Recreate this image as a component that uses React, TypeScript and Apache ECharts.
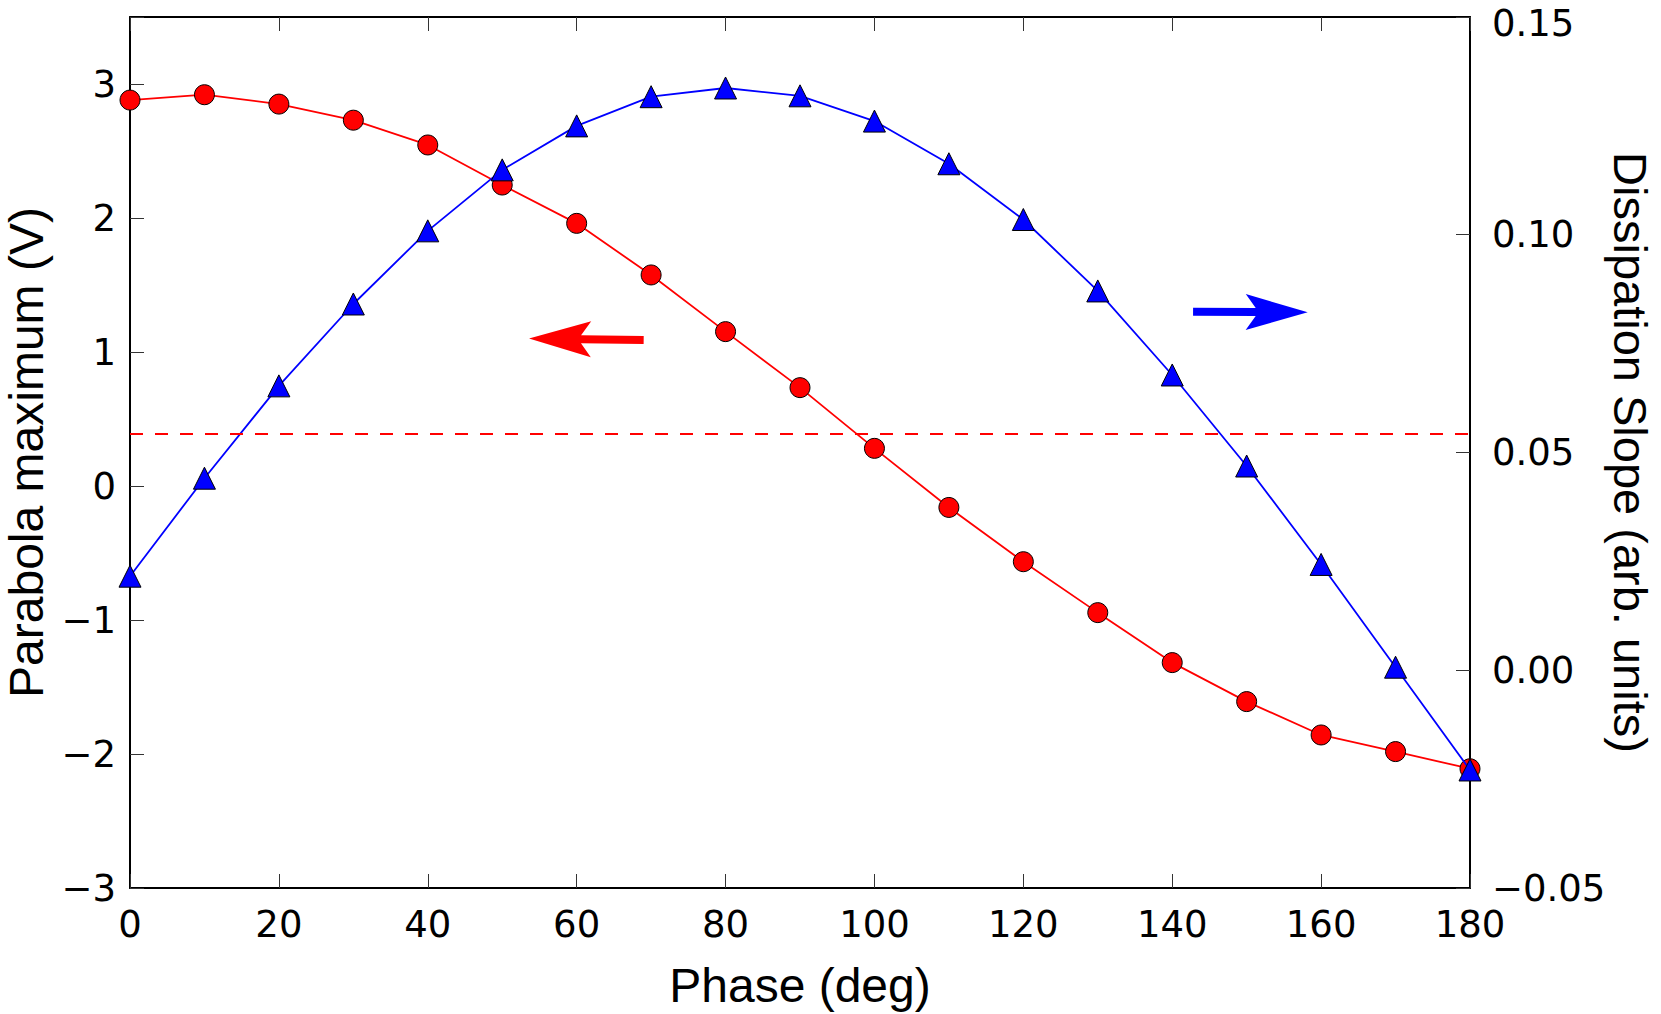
import React, { useEffect, useRef } from 'react';
import * as echarts from 'echarts';

// ---- data ----
const phaseDeg = [0, 10, 20, 30, 40, 50, 60, 70, 80, 90, 100, 110, 120, 130, 140, 150, 160, 170, 180];
const parabolaMax = [2.88, 2.92, 2.85, 2.73, 2.545, 2.246, 1.96, 1.575, 1.152, 0.734, 0.281, -0.16, -0.565, -0.945, -1.318, -1.609, -1.858, -1.982, -2.11];
const dissipationSlope = [0.0216, 0.0441, 0.0653, 0.0841, 0.1009, 0.1149, 0.125, 0.1317, 0.1337, 0.1319, 0.1261, 0.1163, 0.1035, 0.0871, 0.0678, 0.0469, 0.0243, 0.0007, -0.0229];
const thresholdLevel = 0.39;
// arrows: [tailX, tailY, tipX, tipY]
const leftArrow = [[69, 1.09, 53.6, 1.1]];
const rightArrow = [[142.8, 0.0823, 158.2, 0.0822]];

const xRange = { min: 0, max: 180, interval: 20 };
const leftRange = { min: -3, max: 3.5, interval: 1 };
const rightRange = { min: -0.05, max: 0.15, interval: 0.05 };

export default function App() {
  const ref = useRef<HTMLDivElement>(null);
  useEffect(() => {
    const chart = echarts.init(ref.current!, null, { renderer: 'svg' });
    const minus = (s: string) => s.replace('-', '\u2212');
    const tickFont = { fontFamily: 'DejaVu Sans', fontSize: 37, color: '#000' };
    const titleFont = { fontFamily: 'Liberation Sans', fontSize: 48, color: '#000' };
    const axisLine = { show: true, onZero: false, lineStyle: { color: '#000', width: 2 } };
    const axisTick = { show: true, inside: true, length: 14, lineStyle: { color: '#333', width: 1 } };

    const arrowRender = (fill: string) => (params: any, api: any) => {
      const tail = api.coord([api.value(0), api.value(1)]);
      const tip = api.coord([api.value(2), api.value(3)]);
      const dx = tail[0] - tip[0];
      const dy = tail[1] - tip[1];
      const L = Math.hypot(dx, dy);
      const ux = dx / L, uy = dy / L;
      const nx = -uy, ny = ux;
      const pt = (a: number, b: number) => [tip[0] + ux * a + nx * b, tip[1] + uy * a + ny * b];
      const points = [pt(0, 0), pt(62, 18), pt(52, 4), pt(L, 4), pt(L, -4), pt(52, -4), pt(62, -18)];
      return { type: 'polygon', shape: { points }, style: { fill } };
    };

    chart.setOption({
      animation: false,
      backgroundColor: '#fff',
      grid: { left: 130, right: 191, top: 17, bottom: 126, containLabel: false, outerBoundsMode: 'none' },
      xAxis: [
        {
          type: 'value',
          position: 'bottom',
          ...xRange,
          name: 'Phase (deg)',
          nameLocation: 'middle',
          nameGap: 73,
          nameTextStyle: titleFont,
          axisLine,
          axisTick,
          splitLine: { show: false },
          axisLabel: { ...tickFont, margin: 18 },
        },
        {
          type: 'value',
          position: 'top',
          ...xRange,
          axisLine,
          axisTick,
          splitLine: { show: false },
          axisLabel: { show: false },
        },
      ],
      yAxis: [
        {
          type: 'value',
          position: 'left',
          ...leftRange,
          name: 'Parabola maximum (V)',
          nameLocation: 'middle',
          nameGap: 76,
          nameRotate: 90,
          nameTextStyle: titleFont,
          axisLine,
          axisTick,
          splitLine: { show: false },
          axisLabel: {
            ...tickFont,
            margin: 14,
            formatter: (v: number) => (Number.isInteger(v) ? minus(String(v)) : ''),
          },
        },
        {
          type: 'value',
          position: 'right',
          ...rightRange,
          name: 'Dissipation Slope (arb. units)',
          nameLocation: 'middle',
          nameGap: 140,
          nameMoveOverlap: false,
          nameRotate: -90,
          nameTextStyle: { ...titleFont, fontSize: 47, lineHeight: 40 },
          axisLine,
          axisTick,
          splitLine: { show: false },
          axisLabel: {
            ...tickFont,
            lineHeight: 30,
            margin: 22,
            formatter: (v: number) => {
              const s = minus((Math.round(v * 100) / 100).toFixed(2));
              return v >= rightRange.max - 1e-9 ? '{t|' + s + '}' : s;
            },
            rich: {
              t: { ...tickFont, lineHeight: 30, padding: [12, 0, 0, 0] },
            },
          },
        },
      ],
      series: [
        {
          type: 'line',
          name: 'parabola',
          xAxisIndex: 0,
          yAxisIndex: 0,
          data: phaseDeg.map((x, i) => [x, parabolaMax[i]]),
          symbol: 'circle',
          symbolSize: 20,
          lineStyle: { color: '#ff0000', width: 1.8 },
          itemStyle: { color: '#ff0000', borderColor: '#000', borderWidth: 1 },
          z: 2,
          markLine: {
            silent: true,
            symbol: 'none',
            label: { show: false },
            lineStyle: { color: '#ff0000', type: [13, 12], width: 2 },
            data: [{ yAxis: thresholdLevel }],
          },
        },
        {
          type: 'line',
          name: 'slope',
          xAxisIndex: 0,
          yAxisIndex: 1,
          data: phaseDeg.map((x, i) => [x, dissipationSlope[i]]),
          symbol: 'triangle',
          symbolSize: [22, 22],
          lineStyle: { color: '#0000ff', width: 1.8 },
          itemStyle: { color: '#0000ff', borderColor: '#000', borderWidth: 1 },
          z: 3,
        },
        {
          type: 'custom',
          xAxisIndex: 0,
          yAxisIndex: 0,
          data: leftArrow,
          encode: { x: [0, 2], y: [1, 3] },
          renderItem: arrowRender('#ff0000'),
          silent: true,
          z: 4,
        },
        {
          type: 'custom',
          xAxisIndex: 0,
          yAxisIndex: 1,
          data: rightArrow,
          encode: { x: [0, 2], y: [1, 3] },
          renderItem: arrowRender('#0000ff'),
          silent: true,
          z: 4,
        },
      ],
    });
    return () => chart.dispose();
  }, []);
  return <div ref={ref} style={{ position: 'fixed', left: 0, top: 0, width: 1661, height: 1014 }} />;
}
